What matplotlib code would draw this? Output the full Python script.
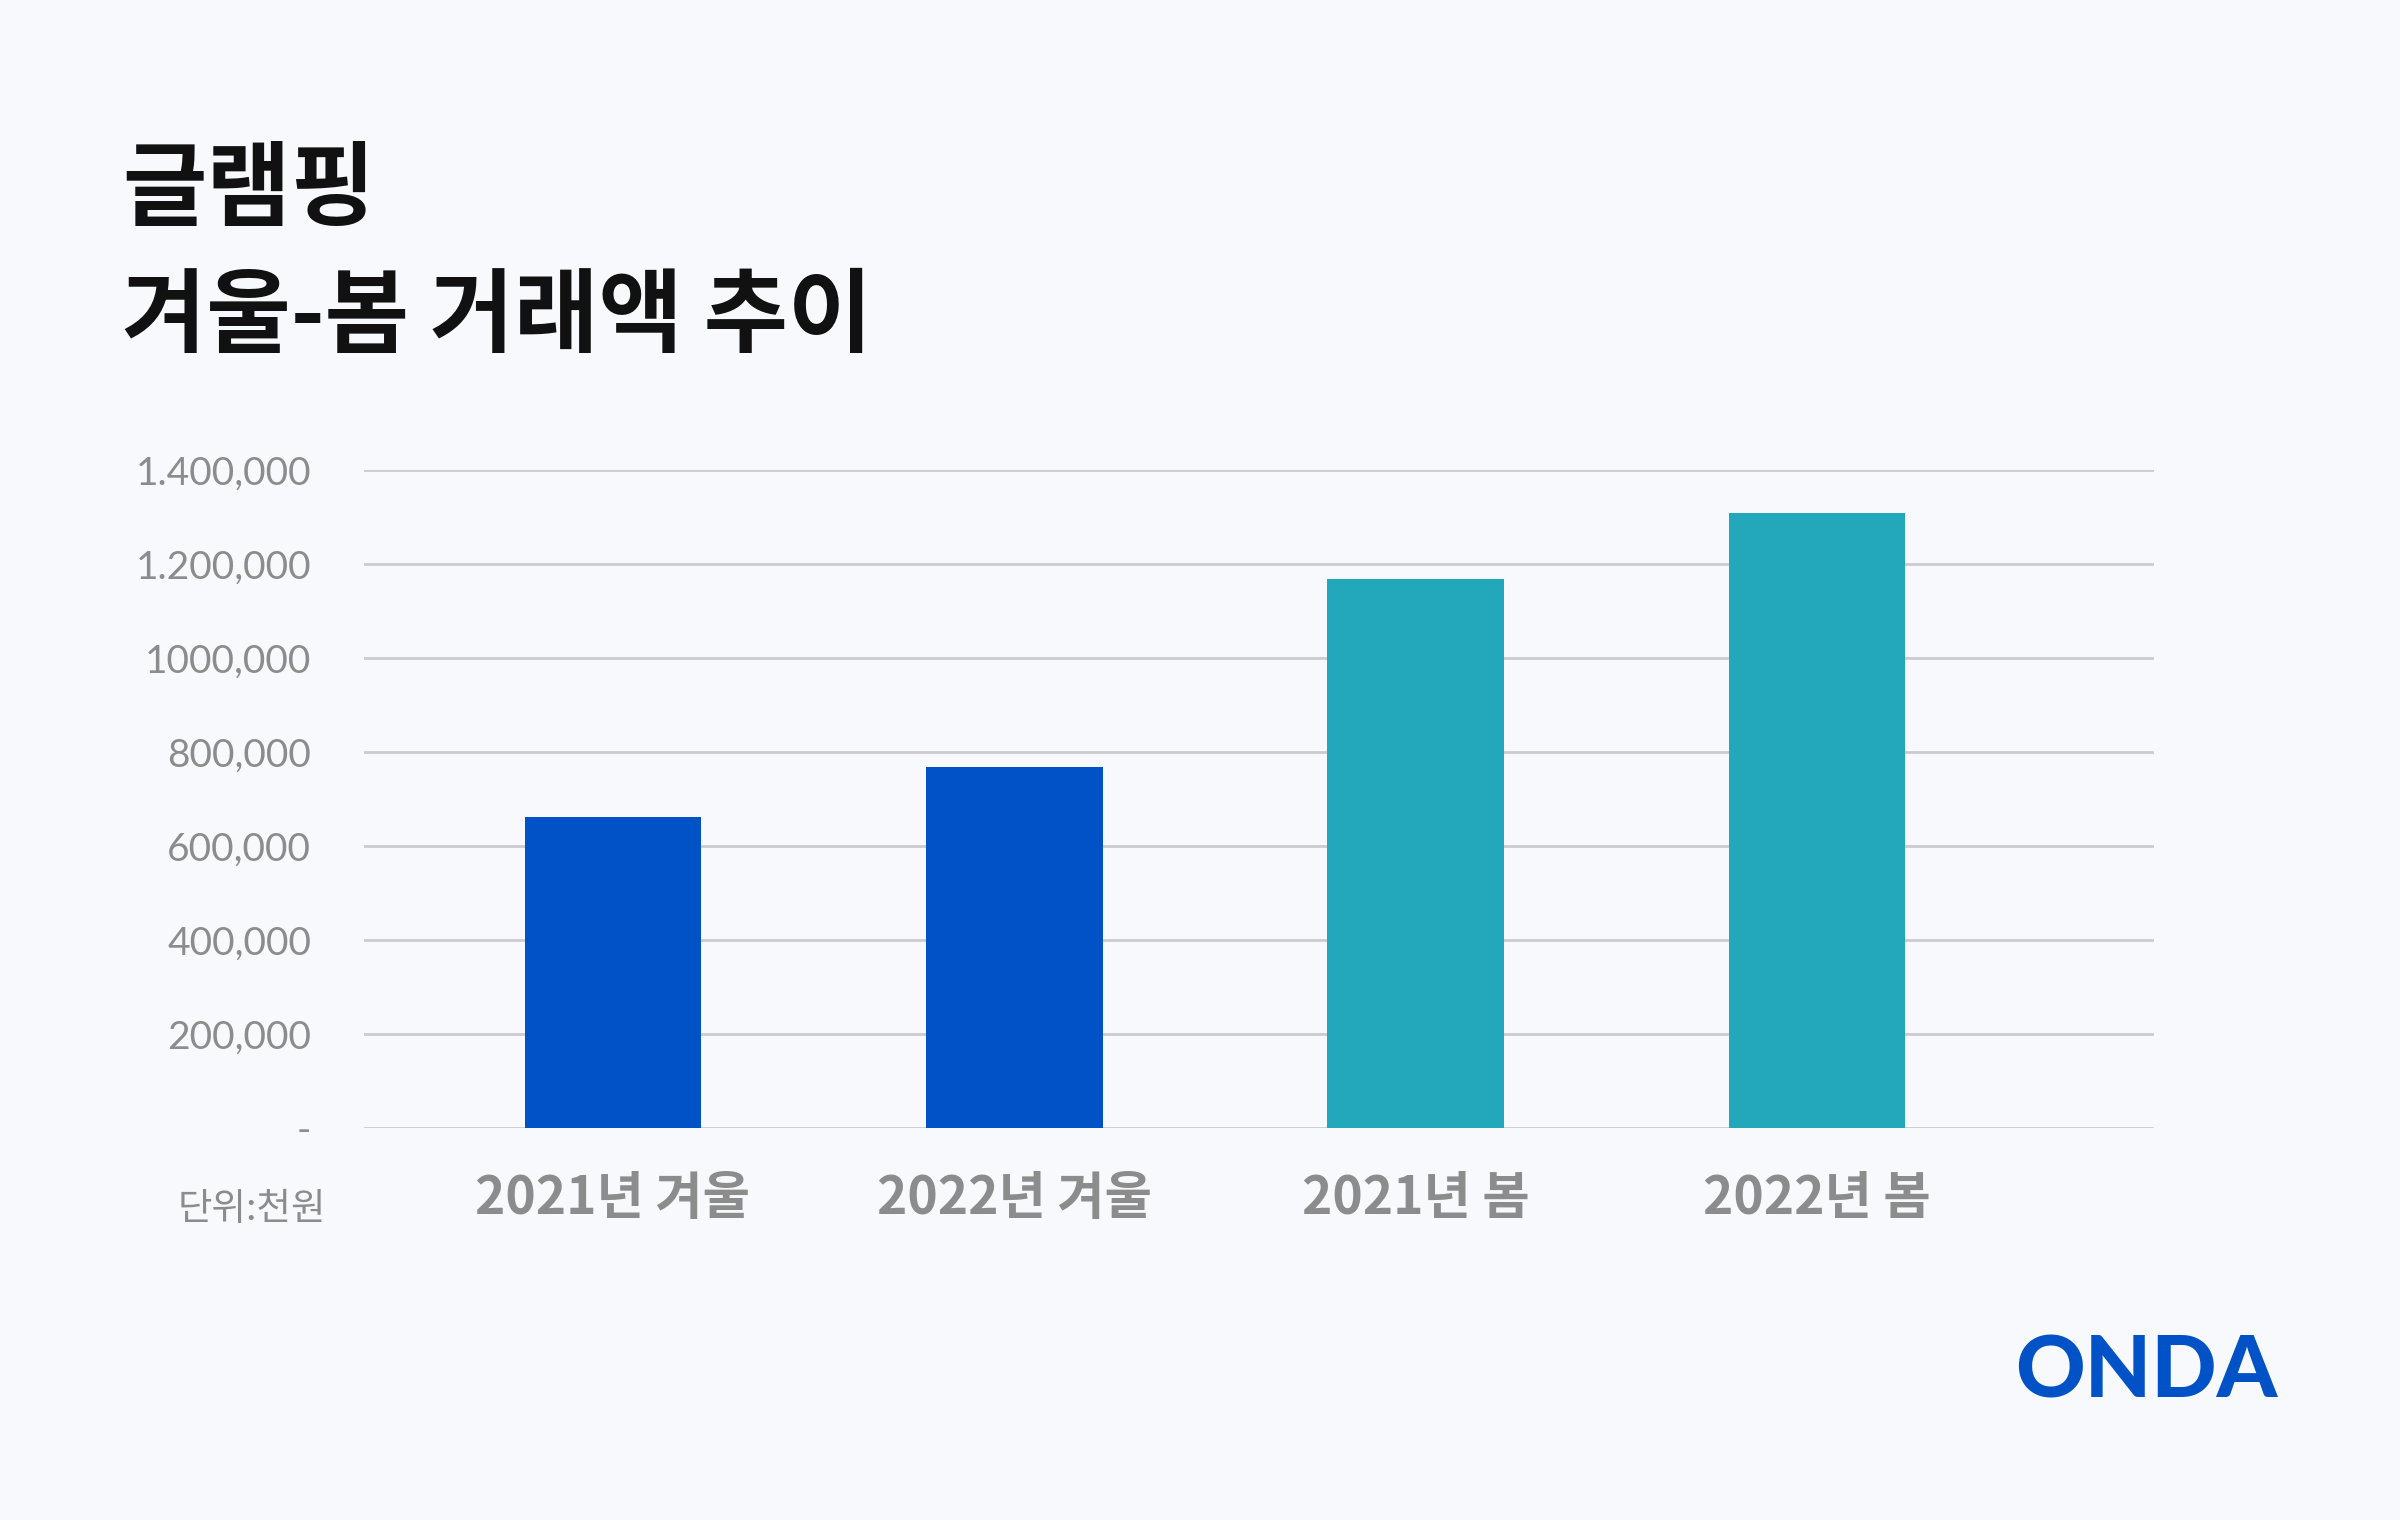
import matplotlib
matplotlib.use("Agg")
import matplotlib.pyplot as plt

# data (unit: 천원)
categories = ["2021년 겨울", "2022년 겨울", "2021년 봄", "2022년 봄"]
values = [661000, 768000, 1168000, 1308000]
bar_colors = ["#0052C6", "#0052C6", "#23A7BB", "#23A7BB"]
yticks = [0, 200000, 400000, 600000, 800000, 1000000, 1200000, 1400000]
ytick_labels = ["-", "200,000", "400,000", "600,000", "800,000", "1000,000", "1.200,000", "1.400,000"]
title_lines = ["글램핑", "겨울-봄 거래액 추이"]
unit_note = "단위:천원"
brand = "ONDA"

BG = "#F8F9FD"
GRAY = "#8C8C8C"
KR = ["Noto Sans CJK KR", "DejaVu Sans"]

fig = plt.figure(figsize=(12, 7.6), dpi=200, facecolor=BG)
ax = fig.add_axes([0.1517, 0.2579, 0.7458, 0.4329], facecolor=BG)

x = range(len(categories))
ax.bar(x, values, width=0.44, color=bar_colors, zorder=3)
ax.set_xlim(-0.62, 3.84)
ax.set_ylim(0, 1400000)
ax.set_yticks(yticks)
ax.set_yticklabels(ytick_labels, family=["Lato", "DejaVu Sans"], fontsize=14, color=GRAY)
ax.set_xticks(list(x))
ax.set_xticklabels(categories, family=KR, fontsize=18.5, fontweight="bold", color=GRAY)
ax.tick_params(axis="y", length=0, pad=19)
ax.tick_params(axis="x", length=0, pad=16)
ax.grid(axis="y", color="#CBCBD0", linewidth=1.0, zorder=0)
ax.set_axisbelow(True)
for s in ax.spines.values():
    s.set_visible(False)

# title
fig.text(0.051, 0.905, title_lines[0], family=KR, fontsize=33, fontweight="bold", color="#111111", va="top")
fig.text(0.051, 0.822, title_lines[1], family=KR, fontsize=33, fontweight="bold", color="#111111", va="top")

# unit note
fig.text(0.136, 0.204, unit_note, family=KR, fontsize=13.5, color=GRAY, va="center", ha="right")

# logo
fig.text(0.949, 0.097, brand, family=["Lato", "DejaVu Sans"], fontsize=31, fontweight="black", color="#0052C6",
         ha="right", va="center")

fig.savefig("out.png", dpi=200, facecolor=BG)
